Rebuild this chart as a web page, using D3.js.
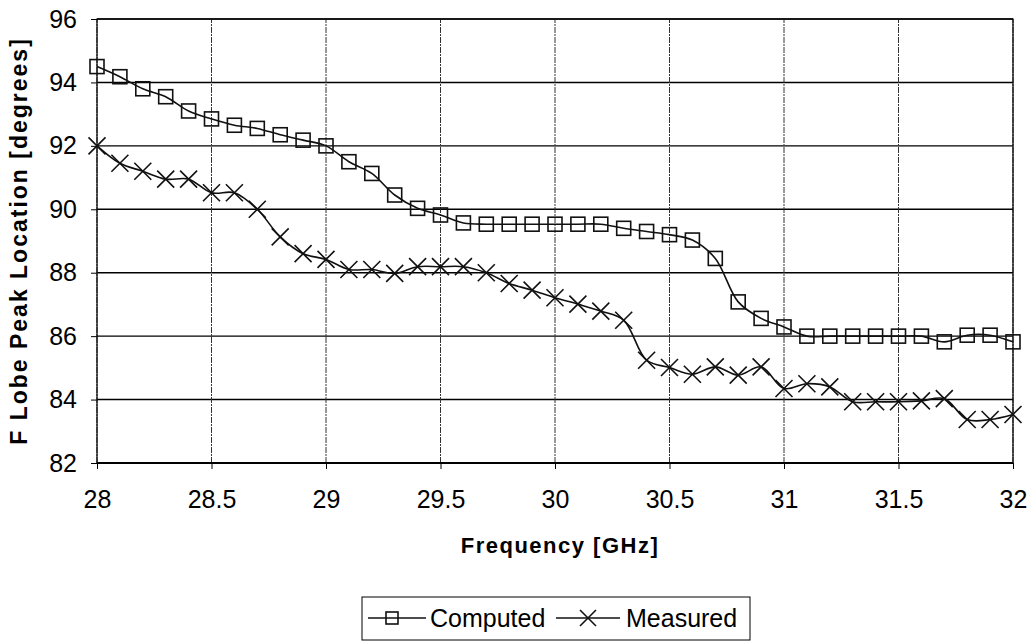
<!DOCTYPE html>
<html>
<head>
<meta charset="utf-8">
<script src="https://cdn.jsdelivr.net/npm/d3@7"></script>
<style>
  html, body { margin: 0; padding: 0; background: #fff; }
  svg { display: block; font-family: "Liberation Sans", Arial, sans-serif; }
</style>
</head>
<body>
<svg id="chart" width="1032" height="641"></svg>
<script>
// Frequency sweep, 28–32 GHz in 0.1 GHz steps
const frequency = d3.range(41).map(i => +(28 + i * 0.1).toFixed(1));

// F lobe peak location [degrees], simulation
const computed = [94.5, 94.18, 93.8, 93.55, 93.1, 92.85, 92.65, 92.55, 92.35, 92.18,
                  92.0, 91.5, 91.13, 90.45, 90.03, 89.82, 89.57, 89.53, 89.53, 89.53,
                  89.53, 89.53, 89.53, 89.4, 89.3, 89.2, 89.03, 88.45, 87.08, 86.56,
                  86.29, 86.0, 86.0, 86.0, 86.0, 86.0, 86.0, 85.82, 86.03, 86.03, 85.82];

// F lobe peak location [degrees], measurement
const measured = [92.0, 91.45, 91.2, 90.95, 90.95, 90.52, 90.52, 90.0, 89.13, 88.6,
                  88.42, 88.1, 88.1, 87.98, 88.19, 88.19, 88.19, 88.0, 87.66, 87.45,
                  87.21, 87.01, 86.79, 86.5, 85.24, 85.01, 84.8, 85.03, 84.77, 85.03,
                  84.35, 84.5, 84.4, 83.93, 83.93, 83.93, 83.96, 84.03, 83.37, 83.37, 83.53];

const xTicks = [28, 28.5, 29, 29.5, 30, 30.5, 31, 31.5, 32];
const yTicks = [82, 84, 86, 88, 90, 92, 94, 96];
const seriesNames = ["Computed", "Measured"];

const svg = d3.select("#chart");
const margin = { top: 19, right: 19, bottom: 178, left: 97 };
const W = 1032, H = 641;
const iw = W - margin.left - margin.right;
const ih = H - margin.top - margin.bottom;

const x = d3.scaleLinear().domain([28, 32]).range([margin.left, margin.left + iw]);
const y = d3.scaleLinear().domain([82, 96]).range([margin.top + ih, margin.top]);

// Gridlines
const grid = svg.append("g");
grid.selectAll("line.h").data(yTicks).join("line")
  .attr("x1", x(28)).attr("x2", x(32))
  .attr("y1", d => y(d)).attr("y2", d => y(d))
  .attr("stroke", "#000").attr("stroke-width", 1.4);
grid.selectAll("line.v").data(xTicks).join("line")
  .attr("y1", y(82)).attr("y2", y(96))
  .attr("x1", d => x(d)).attr("x2", d => x(d))
  .attr("stroke", "#333").attr("stroke-width", 1)
  .attr("stroke-dasharray", "6,1,2,1");

// Plot frame
svg.append("rect")
  .attr("x", x(28)).attr("y", y(96))
  .attr("width", x(32) - x(28)).attr("height", y(82) - y(96))
  .attr("fill", "none").attr("stroke", "#000").attr("stroke-width", 1.2);
svg.append("line")
  .attr("x1", x(28)).attr("x2", x(32)).attr("y1", y(82)).attr("y2", y(82))
  .attr("stroke", "#000").attr("stroke-width", 2.2);

// Axes
const xAxis = d3.axisBottom(x).tickValues(xTicks).tickSize(6).tickPadding(21)
  .tickFormat(d => String(d));
const yAxis = d3.axisLeft(y).tickValues(yTicks).tickSize(6).tickPadding(14)
  .tickFormat(d3.format("d"));

const gx = svg.append("g").attr("transform", `translate(0,${y(82)})`).call(xAxis);
const gy = svg.append("g").attr("transform", `translate(${x(28)},0)`).call(yAxis);
[gx, gy].forEach(g => {
  g.select(".domain").remove();
  g.selectAll(".tick line").attr("stroke", "#000");
  g.selectAll(".tick text").attr("fill", "#000")
    .style("font-size", "25px").style("font-family", "'Liberation Sans', Arial, sans-serif");
});

// Axis titles
svg.append("text")
  .attr("x", 560).attr("y", 553)
  .attr("text-anchor", "middle")
  .style("font-size", "22px").style("font-weight", "bold").style("letter-spacing", "1.5px")
  .text("Frequency [GHz]");
svg.append("text")
  .attr("transform", `translate(27,${(y(82) + y(96)) / 2}) rotate(-90)`)
  .attr("text-anchor", "middle")
  .style("font-size", "23px").style("font-weight", "bold").style("letter-spacing", "2px")
  .text("F Lobe Peak Location [degrees]");

// Smoothed series lines
const line = d3.line()
  .x((d, i) => x(frequency[i]))
  .y(d => y(d))
  .curve(d3.curveCatmullRom.alpha(0.5));

svg.append("path").datum(computed).attr("d", line)
  .attr("fill", "none").attr("stroke", "#111").attr("stroke-width", 1.6);
svg.append("path").datum(measured).attr("d", line)
  .attr("fill", "none").attr("stroke", "#111").attr("stroke-width", 1.6);

// Markers
const sq = 14, xs = 8.5;
svg.append("g").selectAll("rect").data(computed).join("rect")
  .attr("x", (d, i) => x(frequency[i]) - sq / 2)
  .attr("y", d => y(d) - sq / 2)
  .attr("width", sq).attr("height", sq)
  .attr("fill", "none").attr("stroke", "#111").attr("stroke-width", 1.6);

const crossPath = (cx, cy, r) => `M${cx - r},${cy - r}L${cx + r},${cy + r}M${cx - r},${cy + r}L${cx + r},${cy - r}`;
svg.append("g").selectAll("path").data(measured).join("path")
  .attr("d", (d, i) => crossPath(x(frequency[i]), y(d), xs))
  .attr("stroke", "#111").attr("stroke-width", 1.6).attr("fill", "none");

// Legend
const legend = svg.append("g");
const lx = 362, ly = 597, lw = 388, lh = 43;
legend.append("rect").attr("x", lx).attr("y", ly).attr("width", lw).attr("height", lh)
  .attr("fill", "#fff").attr("stroke", "#000").attr("stroke-width", 1);
const cy = ly + 21;
// Computed entry
legend.append("line").attr("x1", lx + 6).attr("x2", lx + 64).attr("y1", cy).attr("y2", cy)
  .attr("stroke", "#111").attr("stroke-width", 1.6);
legend.append("rect").attr("x", lx + 30 - 6).attr("y", cy - 6).attr("width", 12).attr("height", 12)
  .attr("fill", "none").attr("stroke", "#111").attr("stroke-width", 1.6);
legend.append("text").attr("x", lx + 68).attr("y", cy + 9)
  .style("font-size", "25px").text(seriesNames[0]);
// Measured entry
legend.append("line").attr("x1", lx + 194).attr("x2", lx + 258).attr("y1", cy).attr("y2", cy)
  .attr("stroke", "#111").attr("stroke-width", 1.6);
legend.append("path").attr("d", crossPath(lx + 226, cy, 8))
  .attr("stroke", "#111").attr("stroke-width", 1.6).attr("fill", "none");
legend.append("text").attr("x", lx + 264).attr("y", cy + 9)
  .style("font-size", "25px").text(seriesNames[1]);
</script>
</body>
</html>
